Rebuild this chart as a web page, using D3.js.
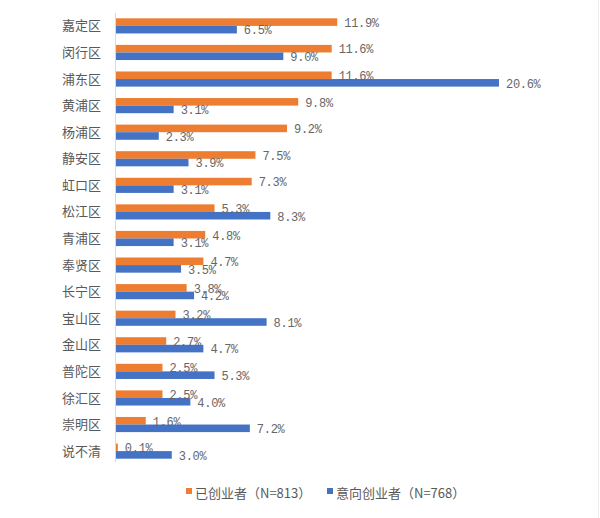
<!DOCTYPE html>
<meta charset="utf-8">
<script src="https://d3js.org/d3.v7.min.js"></script>
<style>
  body { margin: 0; background: #fff; }
</style>
<div id="my_dataviz"></div>
<script>

// districts, top to bottom
var districts = ["嘉定区", "闵行区", "浦东区", "黄浦区", "杨浦区", "静安区", "虹口区", "松江区",
  "青浦区", "奉贤区", "长宁区", "宝山区", "金山区", "普陀区", "徐汇区", "崇明区", "说不清"];

// 已创业者 (N=813)
var founded = [11.9, 11.6, 11.6, 9.8, 9.2, 7.5, 7.3, 5.3, 4.8, 4.7, 3.8, 3.2, 2.7, 2.5, 2.5, 1.6, 0.1];
// 意向创业者 (N=768)
var intending = [6.5, 9.0, 20.6, 3.1, 2.3, 3.9, 3.1, 8.3, 3.1, 3.5, 4.2, 8.1, 4.7, 5.3, 4.0, 7.2, 3.0];

var seriesNames = ["已创业者（N=813）", "意向创业者（N=768）"];
var seriesColors = ["#ED7D31", "#4472C4"];

var width = 600, height = 518;
var margin = {top: 13, left: 116, bottom: 60};

var svg = d3.select("#my_dataviz")
  .append("svg")
    .attr("width", width)
    .attr("height", height);

// x scale: percent -> pixels
var x = d3.scaleLinear()
  .domain([0, 20.6])
  .range([margin.left, 499]);

// one band per district
var y = d3.scaleBand()
  .domain(districts)
  .range([margin.top, 464])
  .paddingInner(0.43)
  .paddingOuter(0.2);

var ySub = d3.scaleBand()
  .domain([0, 1])
  .range([0, y.bandwidth()]);

var rows = districts.map(function(d, i){
  return {name: d, values: [founded[i], intending[i]]};
});

// category axis line
svg.append("line")
  .attr("x1", margin.left - 0.5)
  .attr("x2", margin.left - 0.5)
  .attr("y1", margin.top)
  .attr("y2", 462)
  .attr("stroke", "#d9d9d9")
  .attr("stroke-width", 1);

// category labels
svg.selectAll("catlabels")
  .data(districts)
  .enter()
  .append("text")
    .attr("x", 101)
    .attr("y", function(d){ return y(d) + y.bandwidth()/2; })
    .attr("dy", "0.35em")
    .attr("text-anchor", "end")
    .style("font-family", "'Noto Sans CJK SC', sans-serif")
    .style("font-size", "13px")
    .style("fill", "#595959")
    .text(function(d){ return d; });

var groups = svg.selectAll("rows")
  .data(rows)
  .enter()
  .append("g")
    .attr("transform", function(d){ return "translate(0," + y(d.name) + ")"; });

// bars
groups.selectAll("rect")
  .data(function(d){ return d.values.map(function(v, k){ return {v: v, k: k}; }); })
  .enter()
  .append("rect")
    .attr("x", x(0))
    .attr("y", function(d){ return ySub(d.k); })
    .attr("width", function(d){ return Math.max(1, x(d.v) - x(0)); })
    .attr("height", ySub.bandwidth())
    .attr("fill", function(d){ return seriesColors[d.k]; });

// value labels
groups.selectAll("vals")
  .data(function(d){ return d.values.map(function(v, k){ return {v: v, k: k}; }); })
  .enter()
  .append("text")
    .attr("x", function(d){ return x(d.v) + 7; })
    .attr("y", function(d){ return ySub(d.k) + ySub.bandwidth()/2; })
    .attr("dy", "0.4em")
    .style("font-family", "'Liberation Mono', monospace")
    .style("font-size", "12px")
    .style("letter-spacing", "-0.3px")
    .style("fill", "#666")
    .text(function(d){ return d3.format(".1f")(d.v) + "%"; });

// legend
var legendX = [186, 327];
var legend = svg.selectAll("legend")
  .data(seriesNames)
  .enter()
  .append("g")
    .attr("transform", function(d, i){ return "translate(" + legendX[i] + ",493)"; });

legend.append("rect")
  .attr("x", 0)
  .attr("y", -5)
  .attr("width", 6)
  .attr("height", 6)
  .attr("fill", function(d, i){ return seriesColors[i]; });

legend.append("text")
  .attr("x", 9)
  .attr("y", 0)
  .attr("dy", "0.35em")
  .style("font-family", "'Noto Sans CJK SC', sans-serif")
  .style("font-size", "13px")
  .style("fill", "#595959")
  .text(function(d){ return d; });

// faint chart frame edge on the right
svg.append("line")
  .attr("x1", 598.5).attr("x2", 598.5)
  .attr("y1", 0).attr("y2", height)
  .attr("stroke", "#ececec");

</script>
